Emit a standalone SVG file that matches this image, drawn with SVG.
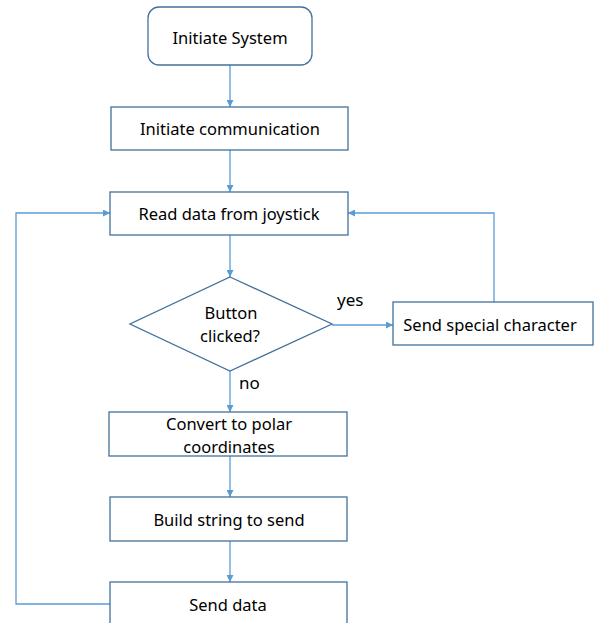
<svg xmlns="http://www.w3.org/2000/svg" width="595" height="623" viewBox="0 0 595 623">
  <style>
    .box { fill: #ffffff; stroke: #41719c; stroke-width: 1.3; }
    .lbl { font-family: "Noto Sans", "Open Sans", sans-serif; font-size: 16.5px; fill: #000000; text-anchor: middle; dominant-baseline: central; }
    .edge { fill: none; stroke: #5b9bd5; stroke-width: 1.3; }
    .tag { font-family: "Noto Sans", "Open Sans", sans-serif; font-size: 17px; fill: #000000; }
  </style>
  <defs>
    <marker id="arrow" viewBox="0 0 10 10" refX="10" refY="5" markerWidth="7" markerHeight="7" markerUnits="userSpaceOnUse" orient="auto">
      <path d="M0,0 L10,5 L0,10 z" fill="#5b9bd5"/>
    </marker>
  </defs>
  <rect width="595" height="623" fill="#ffffff"/>

  <g id="connectors">
    <line class="edge" x1="230" y1="65" x2="230" y2="107" marker-end="url(#arrow)"/>
    <line class="edge" x1="230" y1="150" x2="230" y2="192" marker-end="url(#arrow)"/>
    <line class="edge" x1="230" y1="235" x2="230" y2="277" marker-end="url(#arrow)"/>
    <line class="edge" x1="332" y1="325" x2="393" y2="325" marker-end="url(#arrow)"/>
    <polyline class="edge" points="494,302 494,213 348,213" marker-end="url(#arrow)"/>
    <line class="edge" x1="230" y1="371" x2="230" y2="412" marker-end="url(#arrow)"/>
    <line class="edge" x1="230" y1="456" x2="230" y2="497" marker-end="url(#arrow)"/>
    <line class="edge" x1="230" y1="541" x2="230" y2="582" marker-end="url(#arrow)"/>
    <polyline class="edge" points="110,604 16,604 16,213 110,213" marker-end="url(#arrow)"/>
    <text class="tag" x="337" y="306">yes</text>
    <text class="tag" x="239" y="389">no</text>
  </g>

  <g id="initiate-system">
    <rect class="box" x="148" y="7" width="164" height="58" rx="11"/>
    <text class="lbl" x="230" y="37">Initiate System</text>
  </g>
  <g id="initiate-communication">
    <rect class="box" x="111" y="107" width="237" height="43"/>
    <text class="lbl" x="230" y="128">Initiate communication</text>
  </g>
  <g id="read-data">
    <rect class="box" x="110" y="192" width="238" height="43"/>
    <text class="lbl" x="229" y="213">Read data from joystick</text>
  </g>
  <g id="button-clicked">
    <polygon class="box" points="230,277 332,324 230,371 130,324"/>
    <text class="lbl" x="231" y="312">Button</text>
    <text class="lbl" x="230" y="335">clicked?</text>
  </g>
  <g id="send-special">
    <rect class="box" x="393" y="302" width="200" height="43"/>
    <text class="lbl" x="490" y="324">Send special character</text>
  </g>
  <g id="convert-polar">
    <rect class="box" x="109" y="412" width="238" height="44"/>
    <text class="lbl" x="229" y="423">Convert to polar</text>
    <text class="lbl" x="229" y="446">coordinates</text>
  </g>
  <g id="build-string">
    <rect class="box" x="110" y="497" width="237" height="44"/>
    <text class="lbl" x="229" y="519">Build string to send</text>
  </g>
  <g id="send-data">
    <rect class="box" x="110" y="582" width="237" height="60"/>
    <text class="lbl" x="228" y="604">Send data</text>
  </g>
</svg>
